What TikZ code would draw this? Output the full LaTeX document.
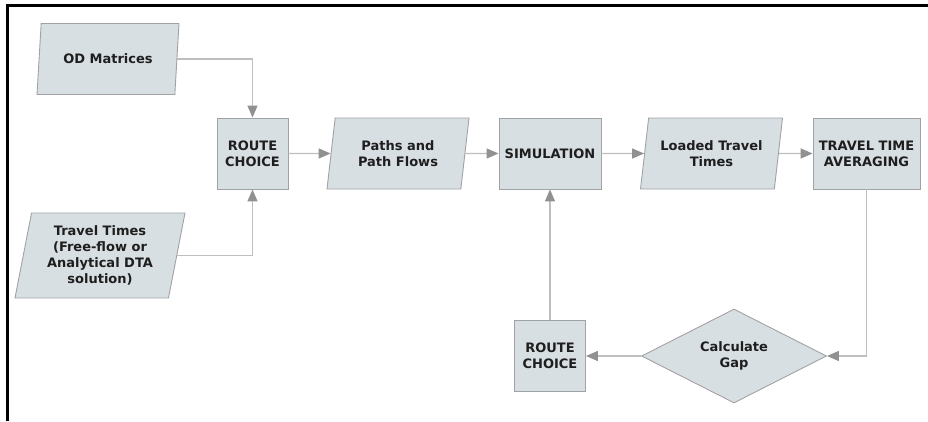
\documentclass[tikz,border=0pt]{standalone}
\usepackage{fontspec}
\setmainfont{DejaVu Sans}
\usetikzlibrary{arrows.meta,positioning,shapes.geometric}
\definecolor{boxfill}{RGB}{216,223,227}
\definecolor{boxline}{RGB}{160,163,165}
\definecolor{flowline}{RGB}{190,190,190}
\definecolor{tipgray}{RGB}{145,145,145}
\definecolor{labeltext}{RGB}{30,30,30}

\begin{document}
\begin{tikzpicture}[x=1pt, y=1pt, on grid,
  every node/.style={align=center, font=\fontsize{13}{16}\selectfont\bfseries, text=labeltext},
  box/.style={draw=boxline, fill=boxfill, line width=0.9pt, minimum height=71pt},
  data/.style={box, trapezium, trapezium left angle=76, trapezium right angle=104, trapezium stretches body, minimum width=142pt},
  test/.style={box, diamond, aspect=2, minimum width=185pt, minimum height=94pt},
  flow/.style={draw=flowline, line width=1.3pt, -{Triangle[length=12pt, width=10pt, color=tipgray]}}]
  \useasboundingbox (0,0) rectangle (928,-421);
  \draw[line width=2.5pt] (7.5,-421) -- (7.5,-5.5) -- (928,-5.5);

  \node[box, minimum width=71pt] (route) at (252.5,-153.5) {ROUTE\\CHOICE};
  \node[data] (od) at (108,-59) {OD Matrices};
  \node[data, minimum width=170pt, minimum height=85pt] (times) at (100,-255.5) {Travel Times\\(Free-flow or\\Analytical DTA\\solution)};
  \node[data, right=145.5pt of route] (paths) {Paths and\\Path Flows};
  \node[box, minimum width=102pt, right=152pt of paths] (sim) {SIMULATION};
  \node[data, right=161.5pt of sim] (loaded) {Loaded Travel\\Times};
  \node[box, minimum width=107pt, right=155pt of loaded] (avg) {TRAVEL TIME\\AVERAGING};
  \node[box, minimum width=71pt, below=202.5pt of sim] (reroute) {ROUTE\\CHOICE};
  \node[test, right=184pt of reroute] (gap) {Calculate\\Gap};

  \draw[flow] (od.east) -| (route.north);
  \draw[flow] (times.east) -| (route.south);
  \draw[flow] (route) -- (paths);
  \draw[flow] (paths) -- (sim);
  \draw[flow] (sim) -- (loaded);
  \draw[flow] (loaded) -- (avg);
  \draw[flow] (avg.south) |- (gap.east);
  \draw[flow] (gap) -- (reroute);
  \draw[flow] (reroute) -- (sim);
\end{tikzpicture}
\end{document}
